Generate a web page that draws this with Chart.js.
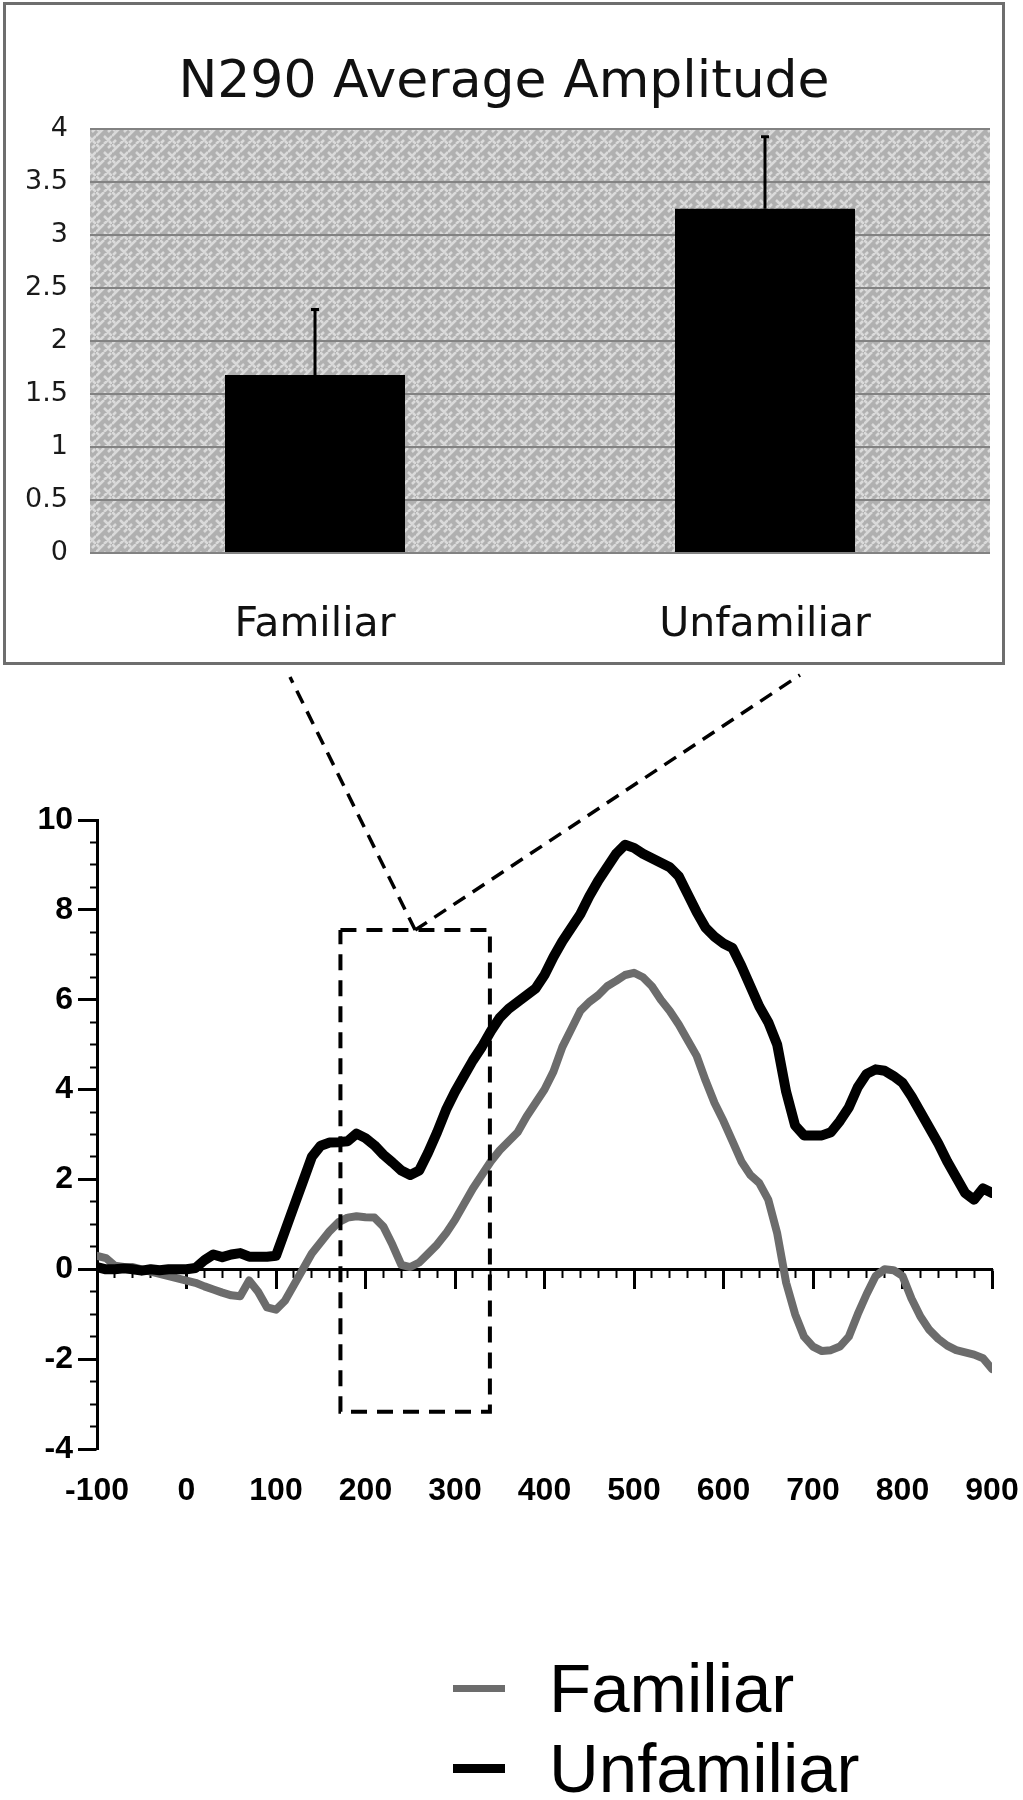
<!DOCTYPE html>
<html>
<head>
<meta charset="utf-8">
<script src="https://cdn.jsdelivr.net/npm/chart.js@4.4.1/dist/chart.umd.min.js"></script>
<style>
  html, body { margin: 0; padding: 0; background: #fff; }
  #page { position: relative; width: 1023px; height: 1800px; overflow: hidden; }
  #insetBox { position: absolute; left: 3px; top: 2px; width: 1002px; height: 663px; box-sizing: border-box; border: 3px solid #6e6e6e; }
  #inset { position: absolute; left: 0; top: 0; }
  #erp { position: absolute; left: 0; top: 665px; }
  .legend-item { position: absolute; left: 453px; height: 68px; }
  .legend-line { position: absolute; left: 0; width: 52px; }
  .legend-text { position: absolute; left: 96px; top: 0; font-family: 'Liberation Sans', Arial, sans-serif; font-size: 69px; line-height: 68px; color: #000; white-space: nowrap; }
</style>
</head>
<body>
<div id="page">
  <div id="insetBox"></div>
  <canvas id="inset" width="1023" height="665"></canvas>
  <canvas id="erp" width="1023" height="1135"></canvas>
  <div id="legend"></div>
</div>
<script>
// inset bar chart (N290 average amplitude)
const barCategories = ['Familiar', 'Unfamiliar'];
const barMeans = [1.68, 3.25];
const barErrorTop = [2.3, 3.93];

// ERP waveforms, sampled every 10 ms
const times = [
  -100, -90, -80, -70, -60, -50, -40, -30, -20, -10,
  0, 10, 20, 30, 40, 50, 60, 70, 80, 90,
  100, 110, 120, 130, 140, 150, 160, 170, 180, 190,
  200, 210, 220, 230, 240, 250, 260, 270, 280, 290,
  300, 310, 320, 330, 340, 350, 360, 370, 380, 390,
  400, 410, 420, 430, 440, 450, 460, 470, 480, 490,
  500, 510, 520, 530, 540, 550, 560, 570, 580, 590,
  600, 610, 620, 630, 640, 650, 660, 670, 680, 690,
  700, 710, 720, 730, 740, 750, 760, 770, 780, 790,
  800, 810, 820, 830, 840, 850, 860, 870, 880, 890,
  900
];
const familiar = [
  0.3, 0.25, 0.08, 0.05, 0.05, 0.0, -0.05, -0.1, -0.15, -0.2,
  -0.25, -0.3, -0.38, -0.45, -0.52, -0.58, -0.6, -0.25, -0.5, -0.85,
  -0.9, -0.7, -0.35, 0.0, 0.35, 0.6, 0.85, 1.05, 1.15, 1.18,
  1.16, 1.15, 0.95, 0.55, 0.1, 0.05, 0.15, 0.35, 0.55, 0.8,
  1.1, 1.45, 1.8, 2.1, 2.4, 2.65, 2.85, 3.05, 3.4, 3.7,
  4.0, 4.4, 4.95, 5.35, 5.75, 5.95, 6.1, 6.3, 6.42, 6.55,
  6.6, 6.5, 6.3, 6.0, 5.75, 5.45, 5.1, 4.75, 4.2, 3.7,
  3.3, 2.85, 2.4, 2.1, 1.92, 1.55, 0.8, -0.3, -1.0, -1.5,
  -1.72, -1.82, -1.8, -1.72, -1.5, -1.0, -0.55, -0.15, 0.0, -0.02,
  -0.15, -0.65, -1.05, -1.35, -1.55, -1.7, -1.8, -1.85, -1.9, -1.98,
  -2.22
];
const unfamiliar = [
  0.05, 0.0, 0.0, 0.02, 0.0, -0.03, 0.0, -0.02, 0.0, 0.0,
  0.0, 0.03, 0.2, 0.33, 0.27, 0.33, 0.36, 0.28, 0.28, 0.28,
  0.3, 0.85, 1.4, 1.95, 2.5, 2.75, 2.82, 2.83, 2.85, 3.02,
  2.92, 2.76, 2.55, 2.38, 2.2, 2.1, 2.2, 2.6, 3.05, 3.55,
  3.95, 4.3, 4.65, 4.95, 5.3, 5.6, 5.8, 5.95, 6.1, 6.25,
  6.55, 6.95, 7.3, 7.6, 7.9, 8.3, 8.65, 8.95, 9.25, 9.45,
  9.38, 9.25, 9.15, 9.05, 8.95, 8.75, 8.35, 7.95, 7.6, 7.4,
  7.25, 7.15, 6.75, 6.3, 5.85, 5.5, 5.0, 3.95, 3.2, 2.98,
  2.98, 2.98, 3.05, 3.3, 3.6, 4.05, 4.35, 4.45, 4.42, 4.3,
  4.15, 3.85, 3.5, 3.15, 2.8, 2.4, 2.05, 1.7, 1.55, 1.8,
  1.7
];

// dashed window marking the N290 interval (ms, µV)
const zoomBoxX = [172, 339];
const zoomBoxY = [-3.17, 7.55];

function makeMaze(ctx) {
  const tile = document.createElement('canvas');
  tile.width = 16;
  tile.height = 16;
  const t = tile.getContext('2d');
  t.fillStyle = '#b0b0b0';
  t.fillRect(0, 0, 16, 16);
  t.strokeStyle = '#dadada';
  t.lineWidth = 2.5;
  t.lineCap = 'butt';
  t.beginPath();
  t.moveTo(0, 8); t.lineTo(8, 0);
  t.moveTo(8, 16); t.lineTo(16, 8);
  t.moveTo(8, 8); t.lineTo(12, 12);
  t.moveTo(0, 0); t.lineTo(3, 3);
  t.moveTo(13, 13); t.lineTo(16, 16);
  t.moveTo(4, 12); t.lineTo(1, 15);
  t.moveTo(12, 4); t.lineTo(15, 1);
  t.stroke();
  return ctx.createPattern(tile, 'repeat');
}

const mazeBackground = {
  id: 'mazeBackground',
  beforeDraw(chart) {
    const { ctx, chartArea: a } = chart;
    ctx.save();
    ctx.fillStyle = makeMaze(ctx);
    ctx.fillRect(a.left, a.top, a.right - a.left, a.bottom - a.top);
    ctx.restore();
  }
};

const errorBars = {
  id: 'errorBars',
  afterDatasetsDraw(chart) {
    const { ctx } = chart;
    const yScale = chart.scales.y;
    chart.getDatasetMeta(0).data.forEach((bar, i) => {
      const top = yScale.getPixelForValue(barErrorTop[i]);
      ctx.save();
      ctx.strokeStyle = '#000';
      ctx.lineWidth = 3;
      ctx.beginPath();
      ctx.moveTo(bar.x, bar.y);
      ctx.lineTo(bar.x, top);
      ctx.moveTo(bar.x - 4, top);
      ctx.lineTo(bar.x + 4, top);
      ctx.stroke();
      ctx.restore();
    });
  }
};

new Chart(document.getElementById('inset'), {
  type: 'bar',
  data: {
    labels: barCategories,
    datasets: [{
      data: barMeans,
      backgroundColor: '#000',
      borderWidth: 0,
      barPercentage: 0.4,
      categoryPercentage: 1.0
    }]
  },
  options: {
    responsive: false,
    animation: false,
    layout: { padding: { top: 50, right: 33, left: 18, bottom: 0 } },
    plugins: {
      legend: { display: false },
      tooltip: { enabled: false },
      title: {
        display: true,
        text: 'N290 Average Amplitude',
        color: '#111',
        font: { family: 'DejaVu Sans', size: 52, weight: 'normal' },
        padding: { top: 2, bottom: 15 }
      }
    },
    scales: {
      x: {
        grid: { display: false, drawTicks: false },
        border: { display: false },
        ticks: { color: '#111', font: { family: 'DejaVu Sans', size: 41 }, padding: 48 },
        afterFit: s => { s.height = 112; }
      },
      y: {
        min: 0,
        max: 4,
        ticks: {
          stepSize: 0.5,
          color: '#1a1a1a',
          font: { family: 'DejaVu Sans', size: 27 },
          padding: 22,
          callback: v => String(v)
        },
        grid: { color: '#828282', lineWidth: 2, drawTicks: false },
        border: { display: false },
        afterFit: s => { s.width = 72; }
      }
    }
  },
  plugins: [mazeBackground, errorBars]
});

// dashed lines from the window up to the inset (canvas px of the inset's lower edge)
const connectorEnds = [[290, 12], [800, 10]];

const zoomConnector = {
  id: 'zoomConnector',
  afterDatasetsDraw(chart) {
    const { ctx, scales: { x, y } } = chart;
    const ax = x.getPixelForValue((zoomBoxX[0] + zoomBoxX[1]) / 2);
    const ay = y.getPixelForValue(zoomBoxY[1]);
    ctx.save();
    ctx.strokeStyle = '#000';
    ctx.lineWidth = 3.5;
    ctx.setLineDash([14, 9]);
    connectorEnds.forEach(([sx, sy]) => {
      ctx.beginPath();
      ctx.moveTo(ax, ay);
      ctx.lineTo(sx, sy);
      ctx.stroke();
    });
    ctx.restore();
  }
};

const tickFont = { family: 'Liberation Sans', size: 32, weight: 'bold' };

const erpChart = new Chart(document.getElementById('erp'), {
  type: 'line',
  data: {
    datasets: [
      {
        label: 'Familiar',
        data: times.map((t, i) => ({ x: t, y: familiar[i] })),
        borderColor: '#6c6c6c',
        borderWidth: 8,
        order: 2
      },
      {
        label: 'Unfamiliar',
        data: times.map((t, i) => ({ x: t, y: unfamiliar[i] })),
        borderColor: '#000',
        borderWidth: 10,
        order: 1
      },
      {
        label: 'window',
        data: [
          { x: zoomBoxX[0], y: zoomBoxY[1] },
          { x: zoomBoxX[1], y: zoomBoxY[1] },
          { x: zoomBoxX[1], y: zoomBoxY[0] },
          { x: zoomBoxX[0], y: zoomBoxY[0] },
          { x: zoomBoxX[0], y: zoomBoxY[1] }
        ],
        borderColor: '#000',
        borderWidth: 4,
        borderDash: [16, 10],
        borderCapStyle: 'butt',
        borderJoinStyle: 'miter',
        order: 0
      }
    ]
  },
  options: {
    responsive: false,
    animation: false,
    elements: {
      point: { radius: 0 },
      line: { tension: 0, borderJoinStyle: 'round', borderCapStyle: 'round' }
    },
    layout: { padding: { top: 155, right: 31, left: 0, bottom: 0 } },
    plugins: { legend: { display: false }, tooltip: { enabled: false } },
    scales: {
      x: {
        type: 'linear',
        min: -100,
        max: 900,
        position: 'bottom',
        // tick marks hidden; tickLength only pushes the labels down
        ticks: { stepSize: 100, color: '#000', font: tickFont, padding: 0 },
        grid: { display: false, drawTicks: true, tickLength: 23 },
        border: { display: false },
        afterFit: s => { s.height = 351; }
      },
      xMajor: {
        type: 'linear',
        axis: 'x',
        min: -100,
        max: 900,
        position: { y: 0 },
        ticks: { display: false, stepSize: 100 },
        grid: { drawOnChartArea: false, tickLength: 18, tickWidth: 3, tickColor: '#000' },
        border: { display: true, color: '#000', width: 3 }
      },
      xMinor: {
        type: 'linear',
        axis: 'x',
        min: -100,
        max: 900,
        position: { y: 0 },
        ticks: { display: false, stepSize: 20 },
        grid: { drawOnChartArea: false, tickLength: 9, tickWidth: 2, tickColor: '#000' },
        border: { display: false }
      },
      y: {
        min: -4,
        max: 10,
        position: 'left',
        ticks: { stepSize: 2, color: '#000', font: tickFont, padding: 5 },
        grid: { drawOnChartArea: false, tickLength: 19, tickWidth: 3, tickColor: '#000' },
        border: { display: true, color: '#000', width: 3 },
        afterFit: s => { s.width = 97; }
      },
      yMinor: {
        axis: 'y',
        min: -4,
        max: 10,
        position: { x: -100 },
        ticks: { display: false, stepSize: 0.5 },
        grid: { drawOnChartArea: false, tickLength: 7, tickWidth: 2, tickColor: '#000' },
        border: { display: false }
      }
    }
  },
  plugins: [zoomConnector]
});

// legend built from the two waveform datasets
const legendTops = [1655, 1735];
const legendEl = document.getElementById('legend');
erpChart.data.datasets.slice(0, 2).forEach((ds, i) => {
  const item = document.createElement('div');
  item.className = 'legend-item';
  item.style.top = legendTops[i] + 'px';
  const line = document.createElement('div');
  line.className = 'legend-line';
  line.style.background = ds.borderColor;
  line.style.height = (ds.borderWidth - 1) + 'px';
  line.style.top = (33 - (ds.borderWidth - 1) / 2) + 'px';
  const text = document.createElement('div');
  text.className = 'legend-text';
  text.textContent = ds.label;
  item.appendChild(line);
  item.appendChild(text);
  legendEl.appendChild(item);
});
</script>
</body>
</html>
